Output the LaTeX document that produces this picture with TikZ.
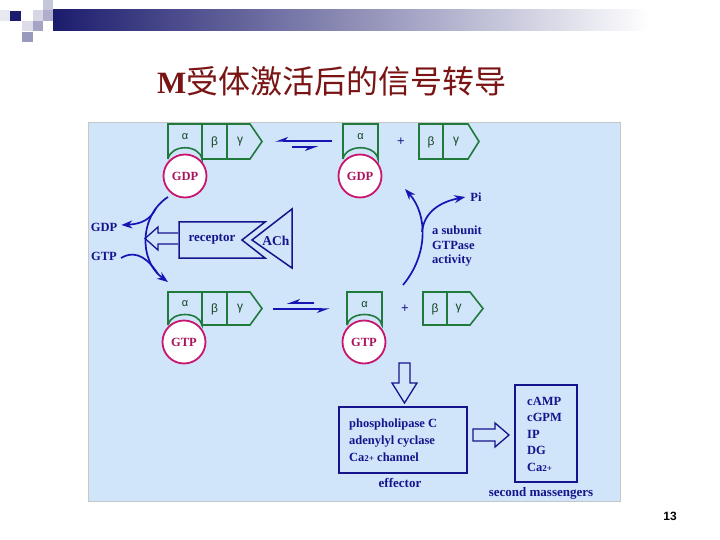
\documentclass[tikz,border=0pt]{standalone}
\usepackage{fontspec}
\setmainfont{Liberation Serif}
\newfontfamily\cjk{Noto Sans CJK SC}
\newfontfamily\gsans{Liberation Sans}
\usetikzlibrary{arrows.meta}
\definecolor{panel}{HTML}{D0E4FA}
\definecolor{gr}{HTML}{1F7A3C}
\definecolor{pk}{HTML}{C8166E}
\definecolor{nv}{HTML}{14148C}
\definecolor{ab}{HTML}{1515B5}
\definecolor{tt}{HTML}{7A1414}
\definecolor{hdr}{HTML}{1C1C6E}
\tikzset{
  sub/.style={draw=gr, line width=1.6pt, fill=panel, line join=miter},
  nuc/.style={circle, draw=pk, line width=1.8pt, fill=white, minimum size=43pt, inner sep=0pt,
    font=\bfseries\fontsize{12.5}{12}\selectfont, text=pk!85!black},
  greek/.style={font=\gsans\fontsize{11}{11}\selectfont, text=gr!55!black, inner sep=0pt},
  lbl/.style={font=\bfseries\fontsize{12.5}{13}\selectfont, text=nv, inner sep=0pt},
  small/.style={font=\bfseries\fontsize{12}{14}\selectfont, text=nv, inner sep=0pt, align=left},
  flow/.style={draw=ab, line width=1.7pt},
  tip/.style={-{Stealth[length=11pt,width=8pt]}},
  harp/.style={draw=ab, line width=1.5pt, -{Stealth[harpoon,swap,length=11pt,width=8pt]}},
  hollow/.style={draw=nv, line width=1.3pt, fill=panel, line join=miter},
  frame/.style={draw=nv, line width=2pt}
}
\begin{document}
\begin{tikzpicture}[x=1pt,y=-1pt]
\useasboundingbox (0,0) rectangle (720,540);
\fill[white] (0,0) rectangle (720,540);
% header decoration
\shade[left color=hdr, right color=white] (53,10) rectangle (650,31);
\fill[hdr!10] (0,10) rectangle (10,21);
\fill[hdr] (10,11) rectangle (21,21);
\fill[hdr!25] (43,0) rectangle (53,10);
\fill[hdr!18] (33,10) rectangle (43,21);
\fill[hdr!35] (43,10) rectangle (53,21);
\fill[hdr!15] (22,21) rectangle (33,31);
\fill[hdr!40] (33,21) rectangle (43,31);
\fill[hdr!45] (22,32) rectangle (33,42);
% title
\node[anchor=west, text=tt, inner sep=0pt] (title) at (157,81)
  {{\fontsize{31}{31}\selectfont\bfseries M}{\cjk\fontsize{32}{32}\selectfont 受体激活后的信号转导}};
% panel
\draw[gray!45, fill=panel] (88,122) rectangle (620,501);

% ---- row 1, left trimer
\draw[sub] (202,124) rectangle (227,159);
\draw[sub] (227,124) -- (250,124) -- (262,141.5) -- (250,159) -- (227,159) -- cycle;
\draw[sub] (168,159) -- (168,124) -- (202,124) -- (202,159) .. controls (199,144) and (171,144) .. (168,159);
\node[greek] (a1) at (185,137) {α};
\node[greek, font=\gsans\fontsize{12}{12}\selectfont] (b1) at (214.5,142) {β};
\node[greek, font=\gsans\fontsize{12}{12}\selectfont] (g1) at (240,142) {γ};
\node[nuc] (gdp1) at (185,176) {GDP};
% row 1 equilibrium
\coordinate (e1a) at (332,141); \coordinate (e1b) at (275,141);
\coordinate (e1c) at (292,147); \coordinate (e1d) at (318,147);
\draw[harp] (e1a) -- (e1b);
\draw[harp] (e1c) -- (e1d);
% row 1 right alpha
\draw[sub] (343,159) -- (343,124) -- (378,124) -- (378,159) .. controls (375,144) and (346,144) .. (343,159);
\node[greek] (a2) at (360.5,137) {α};
\node[nuc] (gdp2) at (360,176) {GDP};
\node[font=\gsans\fontsize{13}{13}\selectfont, text=nv, inner sep=0pt] (plus1) at (401,142) {+};
\draw[sub] (419,124) rectangle (443,159);
\draw[sub] (443,124) -- (468,124) -- (479,141.5) -- (468,159) -- (443,159) -- cycle;
\node[greek, font=\gsans\fontsize{12}{12}\selectfont] (b2) at (431,142) {β};
\node[greek, font=\gsans\fontsize{12}{12}\selectfont] (g2) at (456,142) {γ};

% ---- row 2, left trimer
\draw[sub] (202,292) rectangle (227,325);
\draw[sub] (227,292) -- (250,292) -- (262,308.5) -- (250,325) -- (227,325) -- cycle;
\draw[sub] (168,325) -- (168,292) -- (202,292) -- (202,325) .. controls (199,311) and (171,311) .. (168,325);
\node[greek] (a3) at (185,304) {α};
\node[greek, font=\gsans\fontsize{12}{12}\selectfont] (b3) at (214.5,309) {β};
\node[greek, font=\gsans\fontsize{12}{12}\selectfont] (g3) at (240,309) {γ};
\node[nuc] (gtp1) at (184,342) {GTP};
% row 2 equilibrium
\coordinate (e2a) at (314,303); \coordinate (e2b) at (287,303);
\coordinate (e2c) at (273,309); \coordinate (e2d) at (330,309);
\draw[harp] (e2a) -- (e2b);
\draw[harp] (e2c) -- (e2d);
% row 2 right alpha
\draw[sub] (347,325) -- (347,292) -- (382,292) -- (382,325) .. controls (379,311) and (350,311) .. (347,325);
\node[greek] (a4) at (364.5,305) {α};
\node[nuc] (gtp2) at (364,342) {GTP};
\node[font=\gsans\fontsize{13}{13}\selectfont, text=nv, inner sep=0pt] (plus2) at (405,309) {+};
\draw[sub] (423,292) rectangle (447,325);
\draw[sub] (447,292) -- (470,292) -- (483,308.5) -- (470,325) -- (447,325) -- cycle;
\node[greek, font=\gsans\fontsize{12}{12}\selectfont] (b4) at (435,309) {β};
\node[greek, font=\gsans\fontsize{12}{12}\selectfont] (g4) at (458.5,309) {γ};

% ---- receptor & ACh
\draw[hollow, line width=1.5pt] (179,222) -- (265,222) -- (242,240) -- (265,258) -- (179,258) -- cycle;
\node[lbl, font=\bfseries\fontsize{13}{13}\selectfont] (rec) at (212,239) {receptor};
\draw[hollow, line width=1.5pt] (252,240) -- (292,209) -- (292,268) -- cycle;
\node[lbl, font=\bfseries\fontsize{13.5}{13}\selectfont] (ach) at (276,241) {ACh};
% hollow arrow left
\draw[hollow] (178,233) -- (158,233) -- (158,227) -- (145,238.5) -- (158,250) -- (158,244) -- (178,244);

% ---- left cycle
\node[lbl] (gdpL) at (104,227) {GDP};
\node[lbl] (gtpL) at (104,256) {GTP};
\coordinate (lc0) at (168,197);
\coordinate (lc1) at (168,282);
\draw[flow, tip] (lc0) .. controls (140,215) and (138,260) .. (lc1);
\draw[flow, tip] (156,208) .. controls (151,219) and (142,224) .. ([shift={(4,-2)}]gdpL.east);
\draw[flow] ([shift={(4,2)}]gtpL.east) .. controls (138,248) and (150,262) .. (158,274);

% ---- right cycle
\node[lbl] (pi) at (476,197) {Pi};
\coordinate (rc0) at (403,285);
\coordinate (rc1) at (405,189);
\draw[flow, tip] (rc0) .. controls (428,255) and (428,215) .. (rc1);
\draw[flow, tip] (422,232) .. controls (424,212) and (440,202) .. ([xshift=-5pt]pi.west);
\node[small, anchor=north west, font=\bfseries\fontsize{12.5}{14.5}\selectfont] (gtpase) at (432,226) {a subunit\\GTPase\\activity};

% ---- effector
\draw[hollow] (399,363) -- (410,363) -- (410,383) -- (417,383) -- (404.5,403) -- (392,383) -- (399,383) -- cycle;
\draw[frame] (339,407) rectangle (467,473);
\node[small, anchor=west, font=\bfseries\fontsize{12.5}{17}\selectfont] (eff) at (349,440)
  {phospholipase C\\adenylyl cyclase\\Ca{\fontsize{9}{9}\selectfont 2+} channel};
\node[lbl, font=\bfseries\fontsize{13}{12}\selectfont] (effl) at (400,483) {effector};
\draw[hollow] (473,429) -- (495,429) -- (495,423) -- (509,435) -- (495,447) -- (495,441) -- (473,441) -- cycle;
\draw[frame] (515,385) rectangle (577,482);
\node[small, anchor=west, font=\bfseries\fontsize{12.5}{16.5}\selectfont] (sm) at (527,434)
  {cAMP\\cGPM\\IP\\DG\\Ca{\fontsize{9}{9}\selectfont 2+}};
\node[lbl, font=\bfseries\fontsize{13}{12}\selectfont] (sml) at (541,493) {second massengers};

% page number
\node[font=\gsans\bfseries\fontsize{12}{12}\selectfont, inner sep=0pt] (pg) at (670,516) {13};
\end{tikzpicture}
\end{document}
